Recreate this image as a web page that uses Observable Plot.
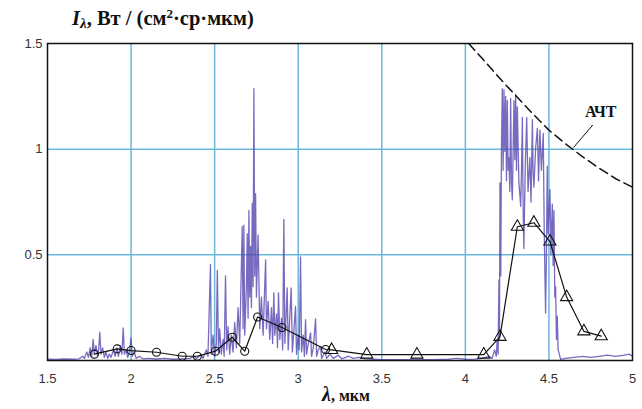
<!DOCTYPE html>
<html>
<head>
<meta charset="utf-8">
<script src="https://cdn.jsdelivr.net/npm/d3@7"></script>
<script src="https://cdn.jsdelivr.net/npm/@observablehq/plot@0.6"></script>
<style>
  html, body { margin: 0; padding: 0; background: #fff; }
  #wrap { position: relative; width: 642px; height: 409px; overflow: hidden; }
  .ttl { position: absolute; font-family: "Liberation Serif", "Times New Roman", serif; font-weight: bold; color: #111; white-space: nowrap; line-height: 1; }
</style>
</head>
<body>
<div id="wrap"></div>
<script>
// ---- data ----
const xTicks = [1.5, 2, 2.5, 3, 3.5, 4, 4.5, 5];
const yTicks = [0.5, 1, 1.5];
const xGrid = [2, 2.5, 3, 3.5, 4, 4.5];
const yGrid = [0.5, 1];

// measured emission spectrum (purple)
const specLambda = [1.50,1.55,1.60,1.65,1.69,1.71,1.72,1.735,1.745,1.755,1.765,1.773,1.78,1.79,1.80,1.806,1.813,1.82,1.83,1.84,1.85,1.86,1.87,1.88,1.895,1.905,1.915,1.925,1.935,1.945,1.953,1.96,1.97,1.98,1.99,2.0,2.007,2.02,2.03,2.05,2.07,2.1,2.15,2.2,2.25,2.3,2.35,2.38,2.39,2.42,2.43,2.45,2.46,2.475,2.48,2.49,2.5,2.51,2.516,2.523,2.53,2.54,2.55,2.557,2.565,2.572,2.58,2.59,2.6,2.61,2.62,2.63,2.64,2.65,2.665,2.67,2.675,2.68,2.69,2.695,2.70,2.705,2.71,2.715,2.72,2.725,2.73,2.735,2.74,2.745,2.75,2.76,2.77,2.78,2.79,2.805,2.81,2.82,2.83,2.84,2.847,2.854,2.86,2.87,2.876,2.882,2.89,2.9,2.907,2.914,2.92,2.934,2.94,2.958,2.965,2.975,2.984,2.99,3.0,3.006,3.014,3.02,3.03,3.037,3.044,3.05,3.06,3.074,3.08,3.09,3.104,3.11,3.12,3.134,3.14,3.16,3.17,3.19,3.21,3.24,3.26,3.3,3.33,3.36,3.4,3.45,3.5,3.6,3.7,3.8,3.9,3.95,4.0,4.05,4.10,4.14,4.16,4.175,4.185,4.191,4.196,4.201,4.204,4.207,4.212,4.216,4.221,4.226,4.231,4.236,4.241,4.246,4.251,4.256,4.261,4.266,4.271,4.276,4.281,4.286,4.291,4.296,4.301,4.306,4.311,4.32,4.331,4.336,4.341,4.346,4.35,4.358,4.367,4.375,4.386,4.393,4.401,4.405,4.41,4.42,4.431,4.438,4.446,4.455,4.466,4.472,4.48,4.485,4.49,4.495,4.506,4.512,4.52,4.525,4.53,4.535,4.54,4.545,4.55,4.555,4.56,4.57,4.6,4.65,4.7,4.75,4.8,4.85,4.9,4.95,4.98,5.0];
const specI = [0.006,0.005,0.007,0.006,0.008,0.02,0.01,0.04,0.015,0.06,0.02,0.10,0.03,0.07,0.02,0.05,0.134,0.03,0.06,0.015,0.04,0.01,0.03,0.015,0.05,0.02,0.06,0.02,0.07,0.03,0.154,0.03,0.05,0.015,0.04,0.107,0.02,0.04,0.01,0.02,0.008,0.01,0.007,0.01,0.006,0.008,0.01,0.02,0.008,0.03,0.01,0.05,0.02,0.453,0.03,0.12,0.02,0.08,0.426,0.04,0.15,0.03,0.10,0.02,0.40,0.05,0.16,0.03,0.12,0.04,0.18,0.06,0.25,0.08,0.633,0.15,0.64,0.12,0.35,0.60,0.2,0.71,0.3,0.54,0.25,0.744,0.35,1.286,0.4,0.79,0.3,0.594,0.15,0.3,0.12,0.476,0.15,0.28,0.1,0.25,0.08,0.32,0.12,0.22,0.06,0.32,0.1,0.2,0.05,0.668,0.08,0.343,0.05,0.343,0.04,0.15,0.256,0.03,0.12,0.05,0.49,0.04,0.12,0.02,0.193,0.03,0.08,0.13,0.02,0.06,0.197,0.02,0.05,0.067,0.01,0.04,0.01,0.03,0.01,0.025,0.008,0.02,0.01,0.015,0.008,0.006,0.004,0.004,0.004,0.004,0.006,0.01,0.006,0.005,0.01,0.02,0.01,0.05,0.02,0.1,0.03,0.38,0.1,0.84,0.4,1.0,1.286,0.9,1.28,0.99,1.25,0.85,1.23,0.9,0.96,0.8,1.24,0.85,0.76,1.0,1.23,0.95,1.26,0.9,1.2,0.85,0.73,0.9,1.15,0.7,0.53,0.9,1.15,0.8,0.96,0.75,1.14,0.9,0.82,1.0,1.1,0.85,1.09,0.9,1.075,0.6,0.225,0.5,0.92,0.6,0.81,0.5,0.74,0.45,0.71,0.3,0.35,0.1,0.21,0.05,0.036,0.005,0.01,0.015,0.02,0.015,0.02,0.025,0.02,0.025,0.03,0.02];

// model curve, circle markers
const circLambda = [1.78, 1.917, 2.0, 2.152, 2.306, 2.396, 2.505, 2.605, 2.68, 2.757, 2.903, 3.164];
const circI      = [0.03, 0.055, 0.047, 0.039, 0.02, 0.02, 0.044, 0.11, 0.044, 0.206, 0.156, 0.052];
// model curve, triangle markers
const triLambda = [3.2, 3.41, 3.71, 4.11, 4.207, 4.311, 4.41, 4.506, 4.606, 4.709, 4.813];
const triI      = [0.05, 0.028, 0.028, 0.028, 0.112, 0.633, 0.652, 0.563, 0.30, 0.138, 0.115];

// black body (АЧТ) dashed curve
const bbLambda = [4.02, 4.1, 4.2, 4.3, 4.4, 4.5, 4.6, 4.7, 4.8, 4.9, 5.0];
const bbI      = [1.5, 1.43, 1.34, 1.255, 1.17, 1.09, 1.025, 0.965, 0.91, 0.86, 0.82];

const bbLabel = "АЧТ";
const bbLabelPos = [4.81, 1.175];
const leader = [[4.648, 1.009], [4.761, 1.113]];

// ---- build tables ----
const spec = specLambda.map((x, i) => ({x, y: specI[i]}));
const circ = circLambda.map((x, i) => ({x, y: circI[i]}));
const tri = triLambda.map((x, i) => ({x, y: triI[i]}));
const model = circ.concat(tri);
const bb = bbLambda.map((x, i) => ({x, y: bbI[i]}));
const lead = leader.map(([x, y]) => ({x, y}));

const chart = Plot.plot({
  width: 642,
  height: 409,
  marginLeft: 47,
  marginRight: 10,
  marginTop: 43,
  marginBottom: 49,
  style: {background: "#fff", fontFamily: "'Liberation Sans', Arial, sans-serif", fontSize: "13px", color: "#333"},
  x: {domain: [1.5, 5], ticks: xTicks, tickSize: 0, tickPadding: 13, tickFormat: d => String(d), label: null},
  y: {domain: [0, 1.5], ticks: yTicks, tickSize: 0, tickPadding: 5, tickFormat: d => String(d), label: null},
  marks: [
    Plot.ruleX(xGrid, {stroke: "#6cb8dd", strokeWidth: 1.5}),
    Plot.ruleY(yGrid, {stroke: "#6cb8dd", strokeWidth: 1.5}),
    Plot.line(spec, {x: "x", y: "y", stroke: "#5546b0", strokeOpacity: 0.8, strokeWidth: 1.3}),
    Plot.line(model, {x: "x", y: "y", stroke: "#111", strokeWidth: 1.2}),
    Plot.dot(circ, {x: "x", y: "y", r: 4, symbol: "circle", stroke: "#111", fill: "none", strokeWidth: 1.1}),
    Plot.dot(tri, {x: "x", y: "y", r: 4.5, symbol: "triangle", stroke: "#111", fill: "none", strokeWidth: 1.1}),
    Plot.line(bb, {x: "x", y: "y", stroke: "#111", strokeWidth: 1.5, strokeDasharray: "9,5"}),
    Plot.line(lead, {x: "x", y: "y", stroke: "#111", strokeWidth: 1}),
    Plot.text([bbLabel], {x: bbLabelPos[0], y: bbLabelPos[1], text: d => d, fontFamily: "Liberation Serif", fontWeight: "bold", fontSize: 16, fill: "#111"}),
    Plot.frame({stroke: "#111", strokeWidth: 1.5})
  ]
});

const wrap = document.getElementById("wrap");
wrap.appendChild(chart);

const title = document.createElement("div");
title.className = "ttl";
title.style.left = "72px";
title.style.top = "8px";
title.style.fontSize = "20.5px";
title.innerHTML = '<i>I</i><i style="font-size:15px;position:relative;top:3px">λ</i>, Вт / (см<span style="font-size:13px;position:relative;top:-7px">2</span>·ср·мкм)';
wrap.appendChild(title);

const xlab = document.createElement("div");
xlab.className = "ttl";
xlab.style.left = "322px";
xlab.style.top = "384px";
xlab.style.fontSize = "16px";
xlab.innerHTML = '<i style="font-size:20px">λ</i>, мкм';
wrap.appendChild(xlab);
</script>
</body>
</html>
